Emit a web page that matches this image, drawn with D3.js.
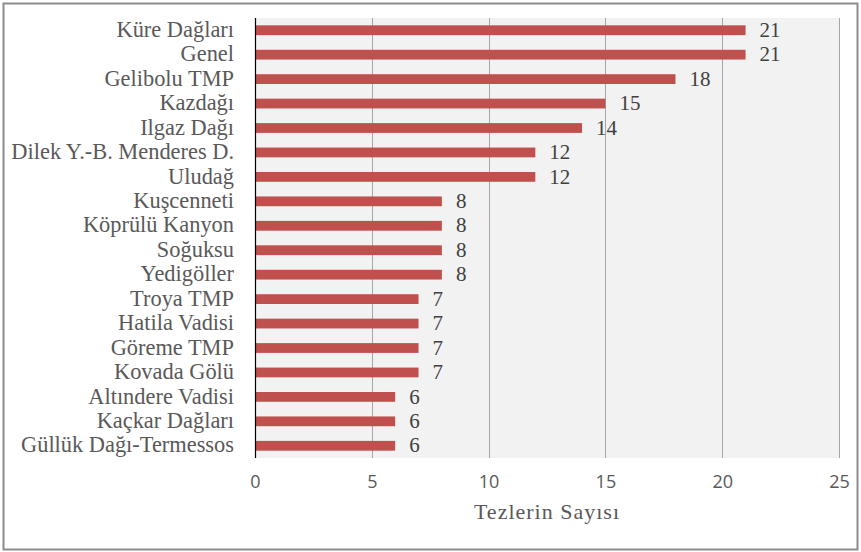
<!DOCTYPE html>
<html>
<head>
<meta charset="utf-8">
<script src="https://cdn.jsdelivr.net/npm/d3@7"></script>
<style>
  body { margin: 0; background: #fff; }
</style>
</head>
<body>
<script>
var categories = ["Küre Dağları", "Genel", "Gelibolu TMP", "Kazdağı", "Ilgaz Dağı",
  "Dilek Y.-B. Menderes D.", "Uludağ", "Kuşcenneti", "Köprülü Kanyon", "Soğuksu",
  "Yedigöller", "Troya TMP", "Hatila Vadisi", "Göreme TMP", "Kovada Gölü",
  "Altındere Vadisi", "Kaçkar Dağları", "Güllük Dağı-Termessos"];
var values = [21, 21, 18, 15, 14, 12, 12, 8, 8, 8, 8, 7, 7, 7, 7, 6, 6, 6];
var tickValues = [0, 5, 10, 15, 20, 25];
var axisTitle = "Tezlerin Sayısı";

var width = 861, height = 552;
var serif = "'Liberation Serif', 'Times New Roman', serif";

var svg = d3.select("body").append("svg")
  .attr("width", width)
  .attr("height", height);

// outer frame
svg.append("rect")
  .attr("x", 3.5).attr("y", 3.5)
  .attr("width", 854).attr("height", 546)
  .style("fill", "#fff")
  .style("stroke", "#8c8c8c")
  .style("stroke-width", 2);

var x = d3.scaleLinear().domain([0, 25]).range([255, 839]);
var y = d3.scaleBand().domain(categories).range([18, 458]).paddingInner(0.6).paddingOuter(0.3);

// plot background
svg.append("rect")
  .attr("x", x(0)).attr("y", 18)
  .attr("width", x(25) - x(0)).attr("height", 440)
  .style("fill", "#f2f2f2");

// gridlines
svg.selectAll("line.grid")
  .data(tickValues.slice(1))
  .enter().append("line")
  .attr("class", "grid")
  .attr("x1", function(d) { return Math.round(x(d)) + 0.5; })
  .attr("x2", function(d) { return Math.round(x(d)) + 0.5; })
  .attr("y1", 18).attr("y2", 458)
  .style("stroke", "#a6a6a6")
  .style("stroke-width", 1);

// bars
svg.selectAll("rect.bar")
  .data(values)
  .enter().append("rect")
  .attr("class", "bar")
  .attr("x", x(0))
  .attr("y", function(d, i) { return y(categories[i]); })
  .attr("width", function(d) { return x(d) - x(0); })
  .attr("height", y.bandwidth())
  .style("fill", "#c0504d");

// value labels
svg.selectAll("text.val")
  .data(values)
  .enter().append("text")
  .attr("class", "val")
  .attr("x", function(d) { return x(d) + 14; })
  .attr("y", function(d, i) { return y(categories[i]) + y.bandwidth() / 2; })
  .attr("dy", "0.32em")
  .style("font-family", serif)
  .style("font-size", "21px")
  .style("fill", "#404040")
  .text(function(d) { return d; });

// category labels
svg.selectAll("text.cat")
  .data(categories)
  .enter().append("text")
  .attr("class", "cat")
  .attr("x", 234)
  .attr("y", function(d) { return y(d) + y.bandwidth() / 2; })
  .attr("dy", "0.3em")
  .style("text-anchor", "end")
  .style("font-family", serif)
  .style("font-size", "22.4px")
  .style("fill", "#595959")
  .text(function(d) { return d; });

// zero axis line
svg.append("line")
  .attr("x1", x(0) + 0.5).attr("x2", x(0) + 0.5)
  .attr("y1", 18).attr("y2", 458)
  .style("stroke", "#000")
  .style("stroke-width", 1.2);

// x axis tick labels
var xAxis = d3.axisBottom(x).tickValues(tickValues).tickSize(0).tickPadding(0);
var gx = svg.append("g")
  .attr("transform", "translate(0,475)")
  .call(xAxis);
gx.select(".domain").remove();
gx.selectAll("text")
  .attr("dy", "0.71em")
  .style("font-family", "'Open Sans', sans-serif")
  .style("font-size", "18px")
  .style("fill", "#595959");

// axis title
svg.append("text")
  .attr("x", (x(0) + x(25)) / 2)
  .attr("y", 519)
  .style("text-anchor", "middle")
  .style("font-family", serif)
  .style("font-size", "22px")
  .style("letter-spacing", "1px")
  .style("fill", "#595959")
  .text(axisTitle);
</script>
</body>
</html>
